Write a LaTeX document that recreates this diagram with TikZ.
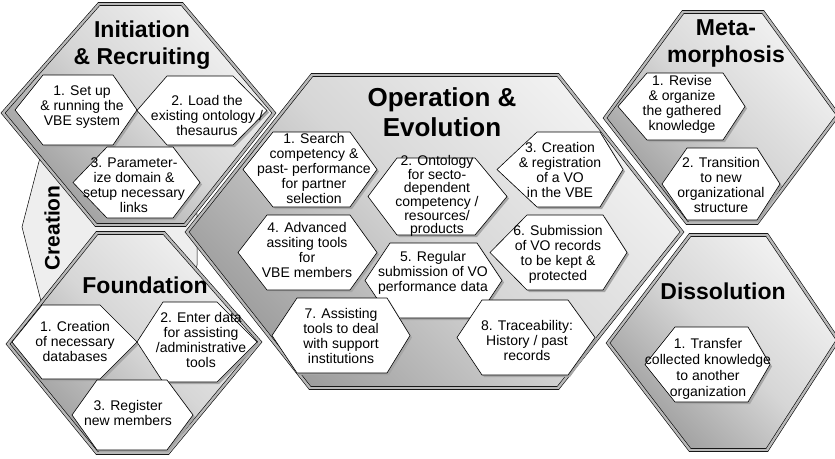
\documentclass[tikz,border=0pt]{standalone}
\usepackage{fontspec}
\setmainfont{Liberation Sans}
\tikzset{
  bighex/.style={draw=black, line width=0.6pt, double=gray!55, double distance=2.4pt,
    top color=gray!10, bottom color=gray!78, middle color=gray!32, shading angle=-45},
  creationbg/.style={draw=black, line width=0.5pt, fill=gray!13},
  subhex/.style={draw=black, line width=0.6pt, fill=white},
  subshadow/.style={fill=gray!70, draw=none},
  subtxt/.style={align=center, inner sep=0pt, font=\fontsize{14}{15}\selectfont},
  titletxt/.style={align=center, inner sep=0pt, font=\fontsize{23}{27}\selectfont\bfseries},
}
\newcommand{\subhexa}[6]{%
  \fill[subshadow, shift={(2,2)}] (#1,{(#5+#6)/2}) -- (#2,#5) -- (#3,#5) -- (#4,{(#5+#6)/2}) -- (#3,#6) -- (#2,#6) -- cycle;
  \draw[subhex] (#1,{(#5+#6)/2}) -- (#2,#5) -- (#3,#5) -- (#4,{(#5+#6)/2}) -- (#3,#6) -- (#2,#6) -- cycle;}
\begin{document}
\begin{tikzpicture}[x=1pt,y=-1pt]
\useasboundingbox (0,0) rectangle (835,458);
\fill[white] (0,0) rectangle (835,458);
% Creation background region
\draw[creationbg] (42,150) -- (190,150) -- (197,215) -- (197,265) -- (190,305) -- (42,305) -- (22,227) -- cycle;
% big hexagons
\path[bighex] (3,113) -- (99,4) -- (182,4) -- (274,113) -- (185,225) -- (96,225) -- cycle;
\path[bighex] (8,344) -- (97,233) -- (164,233) -- (260,342) -- (168,453) -- (97,453) -- cycle;
\path[bighex] (187,232) -- (312,75) -- (558,75) -- (682,232) -- (558,388) -- (310,388) -- cycle;
\path[bighex] (605,118) -- (683,12) -- (763,12) -- (838,115) -- (757,223) -- (687,223) -- cycle;
\path[bighex] (608,343) -- (690,235) -- (767,235) -- (838,340) -- (767,450) -- (690,450) -- cycle;
% sub hexagons
\subhexa{15}{43}{113}{137}{75}{145}
\subhexa{137}{167}{233}{267}{76}{145}
\subhexa{73}{107}{173}{200}{147}{218}
\subhexa{12}{42}{100}{137}{305}{379}
\subhexa{137}{163}{217}{257}{302}{382}
\subhexa{72}{97}{167}{193}{380}{450}
\subhexa{243}{273}{350}{377}{132}{207}
\subhexa{368}{397}{475}{507}{158}{235}
\subhexa{497}{537}{600}{623}{132}{207}
\subhexa{238}{267}{350}{377}{215}{290}
\subhexa{365}{390}{477}{502}{243}{318}
\subhexa{490}{527}{603}{627}{215}{290}
\subhexa{272}{297}{387}{410}{298}{373}
\subhexa{457}{482}{568}{595}{300}{375}
\subhexa{618}{647}{723}{745}{73}{140}
\subhexa{662}{687}{757}{780}{148}{220}
\subhexa{645}{675}{748}{770}{327}{402}
% titles
\node[titletxt] (tinit) at (142,45) {Initiation\\\& Recruiting};
\node[titletxt] (tfound) at (145,285) {Foundation};
\node[titletxt, font=\fontsize{26}{30}\selectfont\bfseries] (toper) at (442,112) {Operation \&\\Evolution};
\node[titletxt] (tmeta) at (726,43) {Meta-\\morphosis};
\node[titletxt] (tdiss) at (723,291) {Dissolution};
\node[titletxt, font=\fontsize{21}{25}\selectfont\bfseries, rotate=90] (tcrea) at (52,228) {Creation};
% sub texts
\node[subtxt] (i1) at (82,107) {1. Set up\\\& running the\\VBE system};
\node[subtxt] (i2) at (207,115) {2. Load the\\existing ontology /\\thesaurus};
\node[subtxt] (i3) at (134,185) {3. Parameter-\\ize domain \&\\setup necessary\\links};
\node[subtxt] (f1) at (75,341) {1. Creation\\of necessary\\databases};
\node[subtxt] (f2) at (201,340) {2. Enter data\\for assisting\\/administrative\\tools};
\node[subtxt] (f3) at (128,413) {3. Register\\new members};
\node[subtxt] (o1) at (314,168) {1. Search\\competency \&\\past- performance\\for partner\\selection};
\node[subtxt, font=\fontsize{14}{12.8}\selectfont] (o2) at (437,196) {2. Ontology\\for secto-\\dependent\\competency /\\resources/\\products};
\node[subtxt] (o3) at (560,170) {3. Creation\\\& registration\\of a VO\\in the VBE};
\node[subtxt] (o4) at (307,250) {4. Advanced\\assiting tools\\for\\VBE members};
\node[subtxt] (o5) at (433,273) {5. Regular\\submission of VO\\performance data};
\node[subtxt] (o6) at (558,254) {6. Submission\\of VO records\\to be kept \&\\protected};
\node[subtxt] (o7) at (341,336) {7. Assisting\\tools to deal\\with support\\institutions};
\node[subtxt] (o8) at (527,340) {8. Traceability:\\History / past\\records};
\node[subtxt] (m1) at (682,104) {1. Revise\\\& organize\\the gathered\\knowledge};
\node[subtxt] (m2) at (721,185) {2. Transition\\to new\\organizational\\structure};
\node[subtxt, font=\fontsize{14}{16}\selectfont] (d1) at (708,369) {1. Transfer\\collected knowledge\\to another\\organization};
\end{tikzpicture}
\end{document}
